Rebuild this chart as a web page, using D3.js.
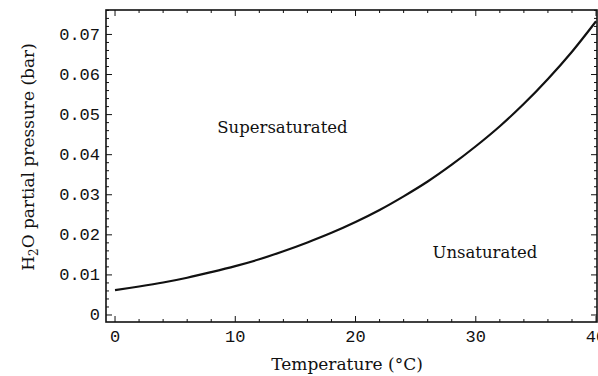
<!DOCTYPE html>
<html>
<head>
<meta charset="utf-8">
<script src="https://cdn.jsdelivr.net/npm/d3@7"></script>
<style>
  html, body { margin: 0; padding: 0; background: #fff; }
  svg { display: block; }
</style>
</head>
<body>
<svg id="chart" width="598" height="376"></svg>
<script>
// Saturation vapour pressure of water vs temperature
const temperatures = [0, 2, 4, 6, 8, 10, 12, 14, 16, 18, 20, 22, 24, 26, 28, 30, 32, 34, 36, 38, 40];
const pressures = [0.0062, 0.0071, 0.0081, 0.0093, 0.0107, 0.0122, 0.0139, 0.0159, 0.0181, 0.0205, 0.0232,
                   0.0262, 0.0296, 0.0333, 0.0375, 0.0421, 0.0471, 0.0527, 0.0589, 0.0657, 0.0733];
const xTickValues = [0, 10, 20, 30, 40];
const xTickLabels = ["0", "10", "20", "30", "40"];
const yTickValues = [0, 0.01, 0.02, 0.03, 0.04, 0.05, 0.06, 0.07];
const yTickLabels = ["0", "0.01", "0.02", "0.03", "0.04", "0.05", "0.06", "0.07"];
const regionLabels = ["Supersaturated", "Unsaturated"];
const regionPositions = [[8.5, 0.0455], [26.4, 0.0142]];

const svg = d3.select("#chart");
const ink = "#111";

const frame = { left: 106, right: 597, top: 10, bottom: 322 };
const x = d3.scaleLinear().domain([-0.75, 40.08]).range([frame.left, frame.right]);
const y = d3.scaleLinear().domain([-0.00175, 0.0761]).range([frame.bottom, frame.top]);

const g = svg.append("g");

// minor and major tick positions
const xMinor = d3.range(0, 41, 2).filter(v => xTickValues.indexOf(v) < 0);
const yMinor = d3.range(0, 0.0761, 0.002).filter(v => !yTickValues.some(t => Math.abs(t - v) < 1e-6));

const tickStyle = s => s.attr("stroke", ink).attr("stroke-width", 1);

// bottom and top frame ticks (inward)
[[frame.bottom, -1], [frame.top, 1]].forEach(([yy, dir]) => {
  g.selectAll(null).data(xTickValues).enter().append("line")
    .attr("x1", d => x(d)).attr("x2", d => x(d))
    .attr("y1", yy).attr("y2", yy + dir * 6).call(tickStyle);
  g.selectAll(null).data(xMinor).enter().append("line")
    .attr("x1", d => x(d)).attr("x2", d => x(d))
    .attr("y1", yy).attr("y2", yy + dir * 3).call(tickStyle);
});

// left and right frame ticks (inward)
[[frame.left, 1], [frame.right, -1]].forEach(([xx, dir]) => {
  g.selectAll(null).data(yTickValues).enter().append("line")
    .attr("y1", d => y(d)).attr("y2", d => y(d))
    .attr("x1", xx).attr("x2", xx + dir * 6).call(tickStyle);
  g.selectAll(null).data(yMinor).enter().append("line")
    .attr("y1", d => y(d)).attr("y2", d => y(d))
    .attr("x1", xx).attr("x2", xx + dir * 3).call(tickStyle);
});

// frame
g.append("rect")
  .attr("x", frame.left).attr("y", frame.top)
  .attr("width", frame.right - frame.left).attr("height", frame.bottom - frame.top)
  .attr("fill", "none").attr("stroke", ink).attr("stroke-width", 1.6);

// tick labels
const monoFont = "'Liberation Mono', 'DejaVu Sans Mono', monospace";
g.selectAll(null).data(xTickValues).enter().append("text")
  .attr("x", d => x(d)).attr("y", 342)
  .attr("text-anchor", "middle")
  .attr("font-family", monoFont).attr("font-size", 17).attr("fill", ink)
  .text((d, i) => xTickLabels[i]);

g.selectAll(null).data(yTickValues).enter().append("text")
  .attr("x", 100).attr("y", d => y(d) + 5.5)
  .attr("text-anchor", "end")
  .attr("font-family", monoFont).attr("font-size", 17).attr("fill", ink)
  .text((d, i) => yTickLabels[i]);

// saturation curve
const line = d3.line()
  .x((d, i) => x(temperatures[i]))
  .y(d => y(d))
  .curve(d3.curveCatmullRom);

g.append("path")
  .datum(pressures)
  .attr("d", line)
  .attr("fill", "none")
  .attr("stroke", ink)
  .attr("stroke-width", 2.2);

// region labels
const serifFont = "'DejaVu Serif', 'Liberation Serif', serif";
g.selectAll(null).data(regionLabels).enter().append("text")
  .attr("x", (d, i) => x(regionPositions[i][0]))
  .attr("y", (d, i) => y(regionPositions[i][1]))
  .attr("font-family", serifFont).attr("font-size", 16.5).attr("fill", ink)
  .text(d => d);

// axis titles
g.append("text")
  .attr("x", 347).attr("y", 370)
  .attr("text-anchor", "middle")
  .attr("font-family", serifFont).attr("font-size", 17).attr("fill", ink)
  .text("Temperature (°C)");

const yt = g.append("text")
  .attr("transform", "translate(34,157) rotate(-90)")
  .attr("text-anchor", "middle")
  .attr("font-family", serifFont).attr("font-size", 17).attr("fill", ink);
yt.append("tspan").text("H");
yt.append("tspan").attr("font-size", 12).attr("dy", 4).text("2");
yt.append("tspan").attr("dy", -4).text("O partial pressure (bar)");
</script>
</body>
</html>
